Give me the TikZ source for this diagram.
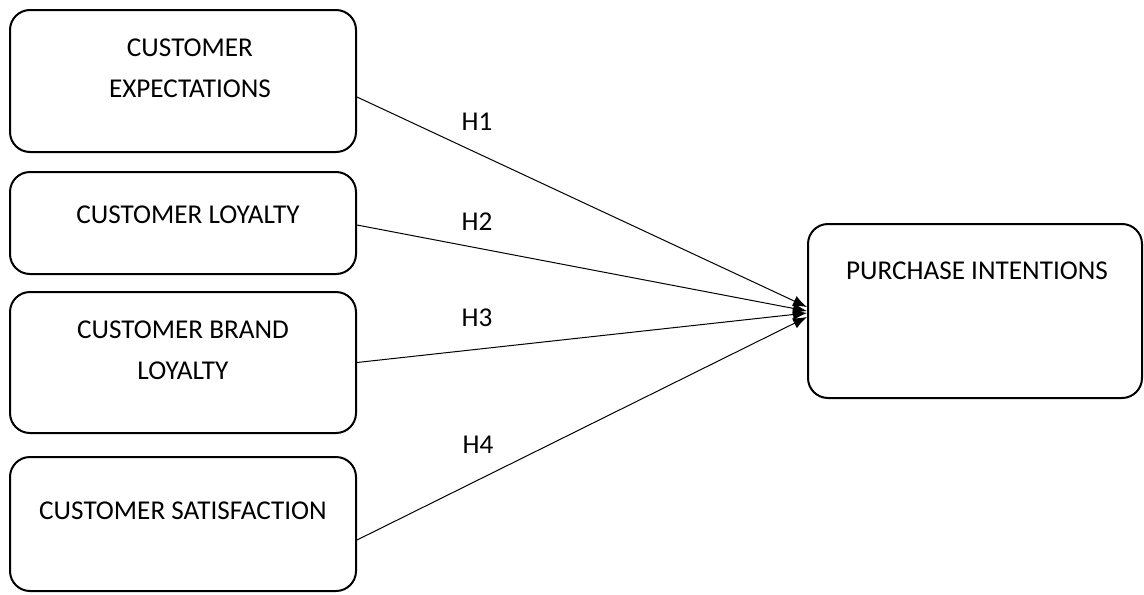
\documentclass[tikz,border=0pt]{standalone}
\usepackage{fontspec}
\setmainfont{Carlito}
\usetikzlibrary{arrows.meta}
\begin{document}
\begin{tikzpicture}[x=0.5pt,y=-0.5pt,
  box/.style={draw=black, line width=1pt, rounded corners=10pt, inner sep=0pt},
  lbl/.style={font=\fontsize{13.6}{20.5}\selectfont, align=center, inner sep=0pt},
  conn/.style={line width=0.5pt, -{Latex[length=7pt,width=5.5pt]}}]
\useasboundingbox (0,0) rectangle (1144,594);
\fill[white] (0,0) rectangle (1144,594);
\node[box, minimum width=173pt, minimum height=71pt] (b1) at (183,81) {};
\node[box, minimum width=173pt, minimum height=51pt] (b2) at (183,223) {};
\node[box, minimum width=173pt, minimum height=70.5pt] (b3) at (183,362.5) {};
\node[box, minimum width=173pt, minimum height=67pt] (b4) at (183,524) {};
\node[box, minimum width=167pt, minimum height=87pt] (pi) at (975,311) {};
\node[lbl] (t1) at (190,68.5) {CUSTOMER\\EXPECTATIONS};
\node[lbl] (t2) at (188,215) {CUSTOMER LOYALTY};
\node[lbl] (t3) at (183,350) {CUSTOMER BRAND\\LOYALTY};
\node[lbl] (t4) at (183,511) {CUSTOMER SATISFACTION};
\node[lbl] (t5) at (977,271) {PURCHASE INTENTIONS};
\node[lbl] (h1) at (477,122) {H1};
\node[lbl] (h2) at (477,222) {H2};
\node[lbl] (h3) at (477,318) {H3};
\node[lbl] (h4) at (478,445) {H4};
\draw[conn] ([yshift=-8pt]b1.east) -- ([yshift=2pt]pi.west);
\draw[conn] ([yshift=-1pt]b2.east) -- ([yshift=0pt]pi.west);
\draw[conn] (b3.east) -- ([yshift=-1pt]pi.west);
\draw[conn] ([yshift=-8pt]b4.east) -- ([yshift=-3pt]pi.west);
\end{tikzpicture}
\end{document}
